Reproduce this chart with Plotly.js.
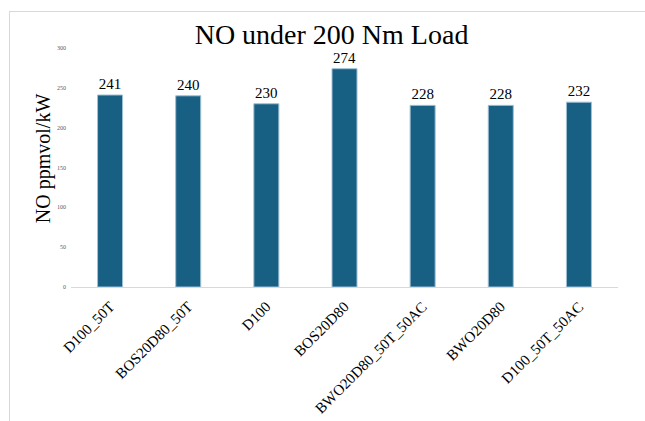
<!DOCTYPE html>
<html>
<head>
<meta charset="utf-8">
<script src="https://cdn.plot.ly/plotly-3.0.1.min.js"></script>
<style>
  html, body { margin: 0; padding: 0; background: #ffffff; }
  #wrap { position: relative; width: 645px; height: 421px; }
  #chart { position: absolute; left: 0; top: 0; width: 645px; height: 421px; }
  #frame {
    position: absolute; left: 9px; top: 11px; right: 0; bottom: 0;
    border-left: 1px solid #d9d9d9; border-top: 1px solid #d9d9d9;
    pointer-events: none;
  }
</style>
</head>
<body>
<div id="wrap">
  <div id="chart"></div>
  <div id="frame"></div>
</div>
<script>
// Fuel blends / operating modes
const categories = ['D100_50T', 'BOS20D80_50T', 'D100', 'BOS20D80', 'BWO20D80_50T_50AC', 'BWO20D80', 'D100_50T_50AC'];
// NO emission, ppmvol/kW
const noValues = [241, 240, 230, 274, 228, 228, 232];
const yTicks = [0, 50, 100, 150, 200, 250, 300];

const serif = '"Liberation Serif", "Times New Roman", serif';

const trace = {
  type: 'bar',
  x: categories,
  y: noValues,
  text: noValues.map(String),
  textposition: 'outside',
  cliponaxis: false,
  textfont: { family: serif, size: 15, color: '#000000' },
  marker: { color: '#185f84', line: { color: '#9fc0d3', width: 1 } },
  hoverinfo: 'x+y'
};

const layout = {
  width: 645,
  height: 421,
  margin: { l: 71, r: 27, t: 48, b: 134 },
  paper_bgcolor: '#ffffff',
  plot_bgcolor: '#ffffff',
  showlegend: false,
  bargap: 0.68,
  title: {
    text: 'NO under 200 Nm Load',
    font: { family: serif, size: 28, color: '#000000' },
    x: 0.514, xanchor: 'center',
    y: 0.918, yanchor: 'middle'
  },
  xaxis: {
    type: 'category',
    tickangle: -45,
    tickfont: { family: serif, size: 15, color: '#000000' },
    showline: true,
    linecolor: '#d9d9d9',
    linewidth: 1,
    showgrid: false,
    ticks: '',
    ticklabelstandoff: 4,
    automargin: false
  },
  yaxis: {
    range: [0, 300],
    tickvals: yTicks,
    ticktext: yTicks.map(String),
    tickfont: { family: serif, size: 6, color: '#595959' },
    showgrid: false,
    zeroline: false,
    showline: false,
    ticks: '',
    ticklabelstandoff: 4,
    automargin: false
  },
  // vertical axis caption
  annotations: [{
    text: 'NO ppmvol/kW',
    xref: 'paper', yref: 'paper',
    x: -0.049, y: 0.54,
    xanchor: 'center', yanchor: 'middle',
    textangle: -90,
    showarrow: false,
    font: { family: serif, size: 20, color: '#000000' }
  }]
};

Plotly.newPlot('chart', [trace], layout, { displayModeBar: false, staticPlot: true });
</script>
</body>
</html>
